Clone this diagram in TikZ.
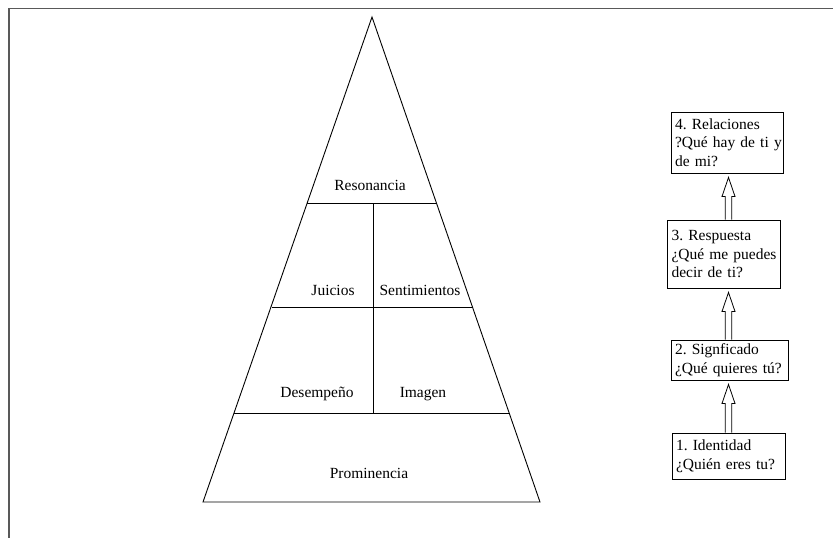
\documentclass[tikz,border=0pt]{standalone}
\usepackage{fontspec}
\setmainfont{Liberation Serif}
\usetikzlibrary{calc}
% one line of box text, left aligned, never broken
\newcommand\boxline[1]{\makebox[0pt][l]{#1}}

\begin{document}
\frenchspacing
\begin{tikzpicture}[x=1pt,y=-1pt,
  frame/.style={draw=black!65, line width=1.3pt},
  pyr/.style={draw=black, line width=0.9pt},
  lbl/.style={font=\fontsize{15.5}{18.5}\selectfont, inner sep=0pt, text height=10pt, text depth=3pt},
  stage/.style={draw=black, line width=0.9pt, rectangle, inner xsep=4pt, inner ysep=2pt,
    align=left, font=\fontsize{15.5}{18.5}\selectfont},
  hollow/.style={draw=black, line width=0.8pt, line join=miter,
    to path={let \p1=(\tikztostart), \p2=(\tikztotarget) in
      (\x1-3.3pt,\y1) -- (\x1-3.3pt,\y2-23pt) -- (\x1-6.5pt,\y2-23pt)
      -- (\x1,\y2-4pt) -- (\x1+6.5pt,\y2-23pt) -- (\x1+3.3pt,\y2-23pt)
      -- (\x1+3.3pt,\y1)}}
]
\useasboundingbox (0,0) rectangle (833,538);

% page frame (top and left edges)
\draw[frame] (833,8.5) -- (9,8.5) -- (9,538);

% pyramid outline
\coordinate (apex) at (372,17);
\coordinate (bl) at (203,502);
\coordinate (br) at (540,502);
\draw[pyr, line join=miter] (apex) -- (br) -- (bl) -- cycle;

% horizontal tiers
\draw[pyr] (307,203) -- (436,203);
\draw[pyr] (272,307) -- (473,307);
\draw[pyr] (234,413) -- (510,413);
% central divider
\draw[pyr] (373,203) -- (373,413);

% tier labels
\node[lbl] (res)  at (370,187) {Resonancia};
\node[lbl] (jui)  at (333,292) {Juicios};
\node[lbl] (sen)  at (420,292) {Sentimientos};
\node[lbl] (des)  at (317,394) {Desempeño};
\node[lbl] (ima)  at (423,394) {Imagen};
\node[lbl] (pro)  at (369,475) {Prominencia};

% stages on the right
\node[stage, minimum width=112pt, minimum height=61pt, text width=104pt] (b4) at (727,142.5)
  {\boxline{4. Relaciones}\\\boxline{?Qué hay de ti y}\\\boxline{de mi?}};
\node[stage, minimum width=113pt, minimum height=68pt, text width=105pt] (b3) at (724,254)
  {\boxline{3. Respuesta}\\\boxline{¿Qué me puedes}\\\boxline{decir de ti?}};
\node[stage, minimum width=117pt, minimum height=40pt, text width=109pt] (b2) at (729.5,360)
  {\boxline{2. Signficado}\\\boxline{¿Qué quieres tú?}};
\node[stage, minimum width=113pt, minimum height=46pt, text width=105pt] (b1) at (728.5,456)
  {\boxline{1. Identidad}\\\boxline{¿Quién eres tu?}};

% hollow arrows between stages
\coordinate (ax) at (728.5,0);
\draw[hollow] (ax |- b1.north) to (ax |- b2.south);
\draw[hollow] (ax |- b2.north) to (ax |- b3.south);
\draw[hollow] (ax |- b3.north) to (ax |- b4.south);
\end{tikzpicture}
\end{document}
